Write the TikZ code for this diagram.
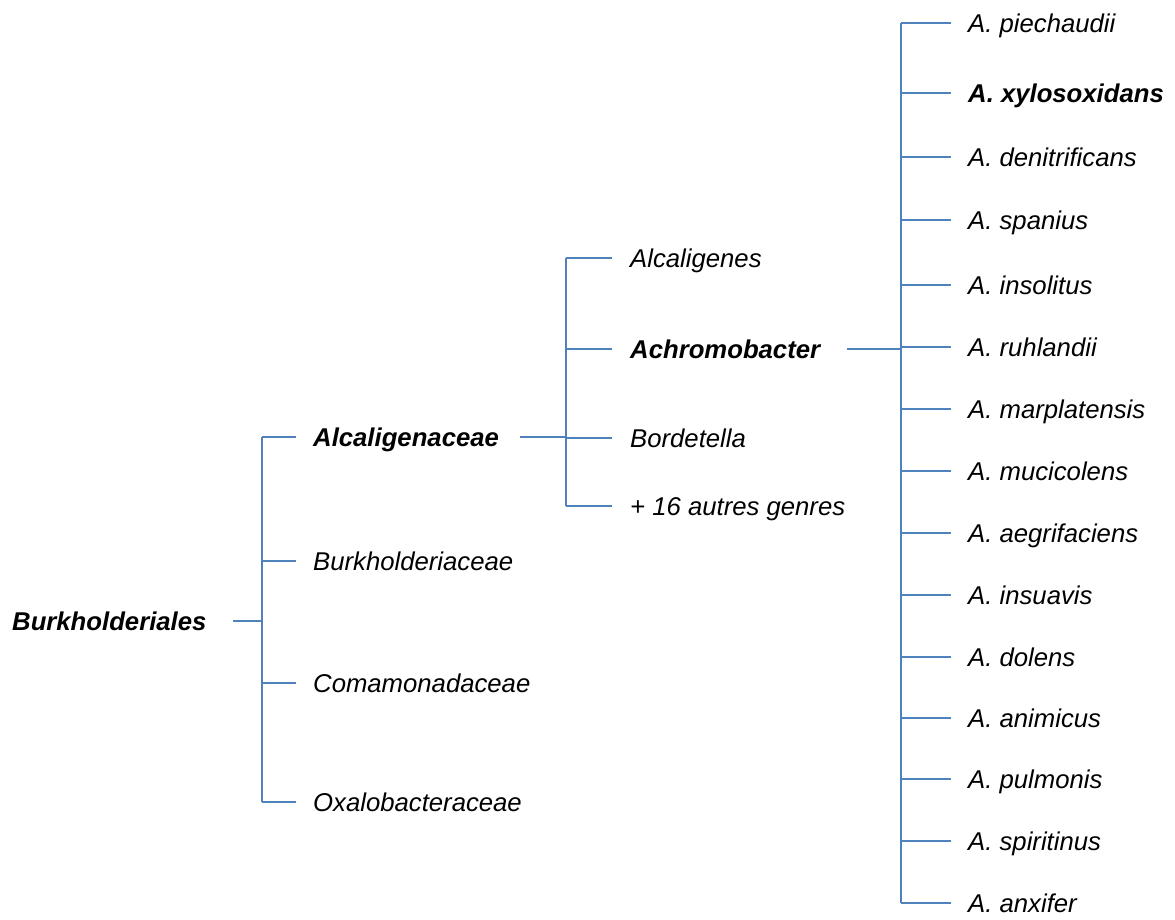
\documentclass[tikz,border=0pt]{standalone}
\usepackage{fontspec}
\setmainfont{Liberation Sans}
\begin{document}
\begin{tikzpicture}[x=1pt,y=-1pt,
  link/.style={draw=linkblue,line width=1.5pt},
  taxon/.style={anchor=west,inner xsep=0pt,inner ysep=0pt,text height=18.4pt,text depth=0pt,
    font=\fontsize{25.7}{30}\selectfont\itshape},
  taxonbold/.style={taxon,font=\fontsize{25.7}{30}\selectfont\bfseries\itshape}]
\definecolor{linkblue}{RGB}{79,129,189}
\useasboundingbox (0,0) rectangle (1175,919);
% root
\node[taxonbold] (root) at (12,621) {Burkholderiales};
\coordinate (j1) at (262,621);
\draw[link] ([xshift=26pt]root.east) -- (j1);
% families
\node[taxonbold] (alc) at (313,437) {Alcaligenaceae};
\node[taxon] (bur) at (313,561) {Burkholderiaceae};
\node[taxon] (com) at (313,683) {Comamonadaceae};
\node[taxon] (oxa) at (313,802) {Oxalobacteraceae};
\draw[link] (j1 |- alc) -- (j1 |- oxa);
\foreach \n in {alc,bur,com,oxa}
  \draw[link] (j1 |- \n) -- ([xshift=-17pt]\n.west);
% genera
\coordinate (j2) at (566,437);
\draw[link] ([xshift=21pt]alc.east) -- (j2);
\node[taxon] (gal) at (630,258) {Alcaligenes};
\node[taxonbold] (gach) at (630,349) {Achromobacter};
\node[taxon] (gbor) at (630,438) {Bordetella};
\node[taxon] (goth) at (630,506) {+ 16 autres genres};
\draw[link] (j2 |- gal) -- (j2 |- goth);
\foreach \n in {gal,gach,gbor,goth}
  \draw[link] (j2 |- \n) -- ([xshift=-18pt]\n.west);
% species
\coordinate (j3) at (901,349);
\draw[link] ([xshift=27pt]gach.east) -- (j3);
\foreach \n/\y/\t in {s1/23/piechaudii,s3/157/denitrificans,s4/220/spanius,
  s5/285/insolitus,s6/347/ruhlandii,s7/409/marplatensis,s8/471/mucicolens,
  s9/533/aegrifaciens,s10/595/insuavis,s11/657/dolens,s12/718/animicus,
  s13/779/pulmonis,s14/841/spiritinus,s15/903/anxifer}
  \node[taxon] (\n) at (968,\y) {A. \t};
\node[taxonbold] (s2) at (968,93) {A. xylosoxidans};
\draw[link] (j3 |- s1) -- (j3 |- s15);
\foreach \n in {s1,s2,s3,s4,s5,s6,s7,s8,s9,s10,s11,s12,s13,s14,s15}
  \draw[link] (j3 |- \n) -- ([xshift=-17pt]\n.west);
\end{tikzpicture}
\end{document}
